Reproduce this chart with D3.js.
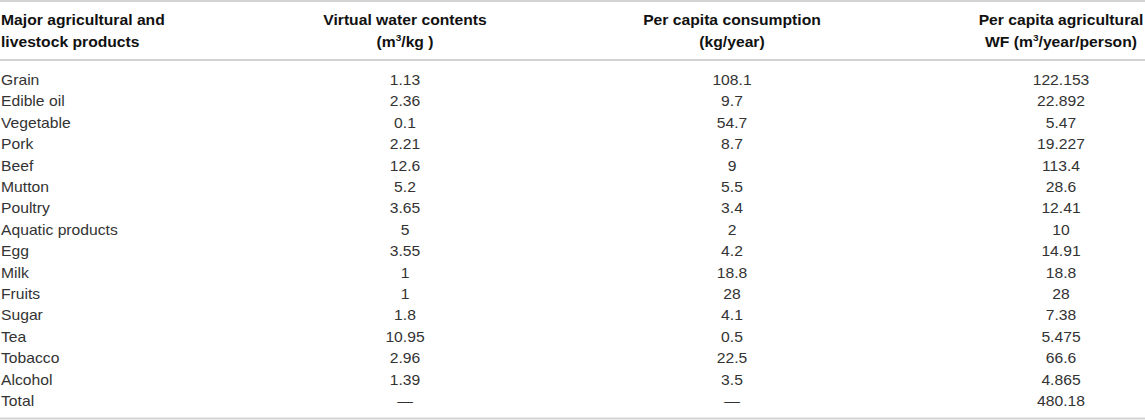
<!DOCTYPE html>
<html>
<head>
<meta charset="utf-8">
<script src="https://cdn.jsdelivr.net/npm/d3@7"></script>
<style>
  html, body { margin: 0; padding: 0; background: #fff; }
  svg { display: block; font-family: "Liberation Sans", Arial, Helvetica, sans-serif; }
</style>
</head>
<body>
<svg id="chart" width="1145" height="420"></svg>
<script>
const products = ["Grain","Edible oil","Vegetable","Pork","Beef","Mutton","Poultry","Aquatic products","Egg","Milk","Fruits","Sugar","Tea","Tobacco","Alcohol","Total"];
const virtualWater = ["1.13","2.36","0.1","2.21","12.6","5.2","3.65","5","3.55","1","1","1.8","10.95","2.96","1.39","—"];
const perCapitaConsumption = ["108.1","9.7","54.7","8.7","9","5.5","3.4","2","4.2","18.8","28","4.1","0.5","22.5","3.5","—"];
const perCapitaWF = ["122.153","22.892","5.47","19.227","113.4","28.6","12.41","10","14.91","18.8","28","7.38","5.475","66.6","4.865","480.18"];
const columnKeys = ["product","vw","pc","wf"];

const rows = products.map((p, i) => ({product: p, vw: virtualWater[i], pc: perCapitaConsumption[i], wf: perCapitaWF[i]}));

const svg = d3.select("#chart");
const W = 1145;
const SX = 1.12; // horizontal stretch of glyphs seen in the reference

const y = d3.scaleBand().domain(d3.range(rows.length)).range([69.3, 69.3 + 21.4 * rows.length]);
const x = d3.scaleOrdinal().domain(columnKeys).range([1, 405, 732, 1061]);
const anchor = k => k === "product" ? "start" : "middle";

// rules
const lineColor = "#d3d3d3";
[1, 60, 418.5].forEach(yy => {
  svg.append("line").attr("x1", 0).attr("x2", W).attr("y1", yy).attr("y2", yy)
    .attr("stroke", lineColor).attr("stroke-width", 2);
});

// header
const hdr = svg.append("g").attr("font-weight", "bold").attr("font-size", 14).attr("fill", "#111");
const l1 = 24.5, l2 = 47;
function htext(k, yy) {
  return hdr.append("text").attr("transform", `translate(${x(k)},${yy}) scale(${SX},1)`).attr("text-anchor", anchor(k));
}
htext("product", l1).text("Major agricultural and");
htext("product", l2).text("livestock products");
htext("vw", l1).text("Virtual water contents");
{
  const t = htext("vw", l2);
  t.append("tspan").text("(m");
  t.append("tspan").attr("font-size", 9).attr("dy", -6).text("3");
  t.append("tspan").attr("dy", 6).text("/kg )");
}
htext("pc", l1).text("Per capita consumption");
htext("pc", l2).text("(kg/year)");
htext("wf", l1).text("Per capita agricultural");
{
  const t = htext("wf", l2);
  t.append("tspan").text("WF (m");
  t.append("tspan").attr("font-size", 9).attr("dy", -6).text("3");
  t.append("tspan").attr("dy", 6).text("/year/person)");
}

// body
const body = svg.append("g").attr("font-size", 14).attr("fill", "#333");
const rowG = body.selectAll("g.row").data(rows).join("g").attr("class", "row")
  .attr("transform", (d, i) => `translate(0,${y(i) + y.bandwidth() / 2 + 5})`);
rowG.selectAll("text").data(d => columnKeys.map(k => ({k, v: d[k]}))).join("text")
  .attr("transform", d => `translate(${x(d.k)},0) scale(${SX},1)`)
  .attr("text-anchor", d => anchor(d.k))
  .text(d => d.v);
</script>
</body>
</html>
